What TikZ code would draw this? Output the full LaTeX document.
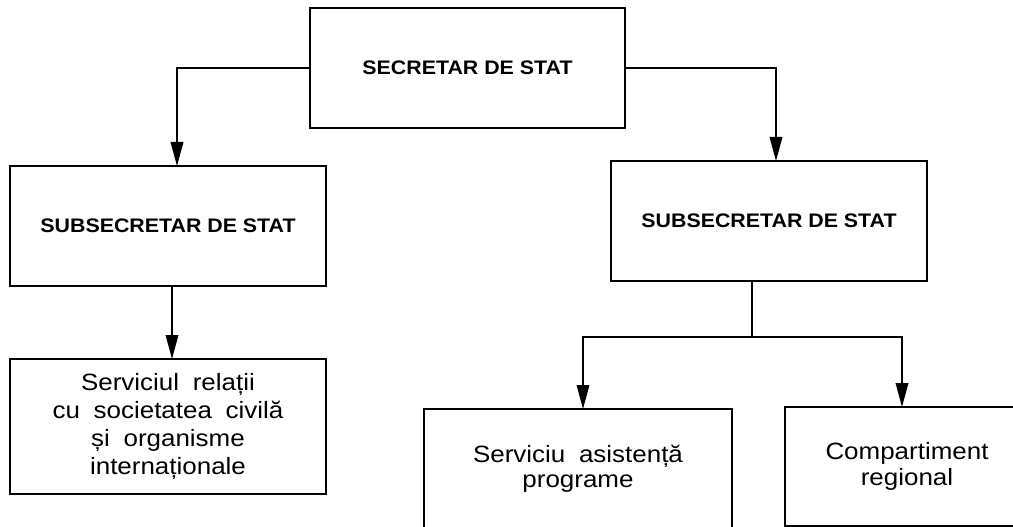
\documentclass[tikz,border=0pt]{standalone}
\usepackage{fontspec}
\setmainfont{Liberation Sans}
\newfontfamily\boxfont{Liberation Sans}[FakeStretch=1.1,WordSpace=1.9]
\newfontfamily\headfont{Liberation Sans}[FakeStretch=1.09]
\usetikzlibrary{arrows.meta}
\begin{document}
\begin{tikzpicture}[x=0.75pt,y=-0.75pt,
    box/.style={draw,line width=1pt,outer sep=0pt,inner sep=0pt,align=center},
    head/.style={box,font=\headfont\bfseries\fontsize{14.7}{17}\selectfont},
    unit/.style={box,font=\boxfont\fontsize{17.7}{19}\selectfont},
    arr/.style={line width=1pt,-{Triangle[length=18pt,width=9.5pt]}}]
    \useasboundingbox (0,0) rectangle (1013,527);
    \clip (0,0) rectangle (1013,527);
            \node[head,minimum width=236.25pt,minimum height=90pt] (sec)  at (467.5,68) {SECRETAR DE STAT};
            \node[head,minimum width=237pt,minimum height=90pt]    (subl) at (168,226)  {SUBSECRETAR DE STAT};
            \node[head,minimum width=237pt,minimum height=90pt]    (subr) at (769,221)  {SUBSECRETAR DE STAT};
            \node[unit,minimum width=237pt,minimum height=101.25pt,font=\boxfont\fontsize{17.7}{21}\selectfont] (servl) at (168,426.5) {Serviciul relații\\cu societatea civilă\\și organisme\\internaționale};
            \node[unit,minimum width=231pt,minimum height=90pt]    (servm) at (578,469) {Serviciu asistență\\programe};
            \node[unit,minimum width=183pt,minimum height=89.25pt] (servr) at (907,466.5) {Compartiment\\regional};
            \coordinate (fork) at (752,337);
            \draw[arr] (sec.west) -| ([xshift=6.75pt]subl.north);
            \draw[arr] (sec.east) -| ([xshift=5.25pt]subr.north);
            \draw[arr] ([xshift=3pt]subl.south) -- ([xshift=3pt]servl.north);
            \draw[line width=1pt] (subr.south -| fork) -- (fork);
            \draw[arr] (fork) -| ([xshift=3.75pt]servm.north);
            \draw[arr] (fork) -| ([xshift=-3.75pt]servr.north);
\end{tikzpicture}
\end{document}
